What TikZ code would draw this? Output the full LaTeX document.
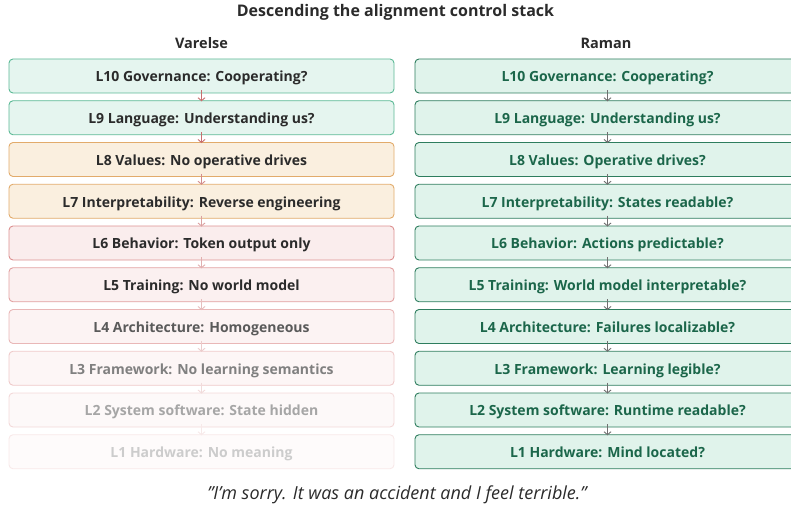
\documentclass[tikz,border=0pt]{standalone}
\usepackage{fontspec}
\setmainfont{Open Sans}
\usetikzlibrary{arrows.meta}

% stroke / fill / text colours of the layers
\definecolor{grnfill}{HTML}{E5F5EF}
\definecolor{grndraw}{HTML}{5BB995}
\definecolor{rgrnfill}{HTML}{E0F3EB}
\definecolor{rgrndraw}{HTML}{2E7D5E}
\definecolor{rgrntext}{HTML}{1B664A}
\definecolor{orgfill}{HTML}{FAEFDF}
\definecolor{orgdraw}{HTML}{E2AB6B}
\definecolor{redfill}{HTML}{FAEDED}
\definecolor{reddraw}{HTML}{DD9090}
\definecolor{dark}{HTML}{2B2B2B}
\definecolor{redarrow}{HTML}{C86E6E}
\definecolor{grayarrow}{HTML}{707070}

\tikzset{
  layer/.style={draw, line width=0.9pt, rounded corners=4pt, minimum width=385pt,
    minimum height=34pt, inner sep=0pt, text height=11.5pt, text depth=0pt, text=dark,
    font=\fontsize{14}{16}\selectfont\bfseries},
  rlayer/.style={layer, fill=rgrnfill, draw=rgrndraw, text=rgrntext},
  okbox/.style={fill=grnfill, draw=grndraw},
  warnbox/.style={fill=orgfill, draw=orgdraw},
  badbox/.style={fill=redfill, draw=reddraw},
  % box strength / text strength
  fade/.style 2 args={fill=redfill!#1!white, draw=reddraw!#1!white, text=dark!#2!white},
  down/.style={-{Straight Barb[length=3pt,width=7pt]}, line width=0.9pt, shorten <=-3pt, shorten >=-1pt},
}

\begin{document}
\begin{tikzpicture}[x=1pt,y=-1pt]
  \useasboundingbox (0,0) rectangle (791,513);

  \node[font=\fontsize{16}{19}\selectfont\bfseries, text=dark] (title) at (395.5,12) {Descending the alignment control stack};
  \node[font=\fontsize{14.5}{17}\selectfont\bfseries, text=dark] (hvar) at (201.5,43) {Varelse};
  \node[font=\fontsize{14.5}{17}\selectfont\bfseries, text=dark] (hram) at (606,43) {Raman};

  % Varelse column
  \node[layer,okbox]   (v10) at (201.5,76)     {L10 Governance: Cooperating?};
  \node[layer,okbox]   (v9)  at (201.5,117.75) {L9 Language: Understanding us?};
  \node[layer,warnbox] (v8)  at (201.5,159.5)  {L8 Values: No operative drives};
  \node[layer,warnbox] (v7)  at (201.5,201.25) {L7 Interpretability: Reverse engineering};
  \node[layer,badbox]  (v6)  at (201.5,243)    {L6 Behavior: Token output only};
  \node[layer,fade={85}{100}] (v5)  at (201.5,284.75) {L5 Training: No world model};
  \node[layer,fade={65}{78}]  (v4)  at (201.5,326.5)  {L4 Architecture: Homogeneous};
  \node[layer,fade={48}{60}]  (v3)  at (201.5,368.25) {L3 Framework: No learning semantics};
  \node[layer,fade={34}{42}]  (v2)  at (201.5,410)    {L2 System software: State hidden};
  \node[layer,fade={20}{24}]  (v1)  at (201.5,451.75) {L1 Hardware: No meaning};

  % Raman column (runs past the right edge)
  \node[rlayer] (r10) at (607.5,76)     {L10 Governance: Cooperating?};
  \node[rlayer] (r9)  at (607.5,117.75) {L9 Language: Understanding us?};
  \node[rlayer] (r8)  at (607.5,159.5)  {L8 Values: Operative drives?};
  \node[rlayer] (r7)  at (607.5,201.25) {L7 Interpretability: States readable?};
  \node[rlayer] (r6)  at (607.5,243)    {L6 Behavior: Actions predictable?};
  \node[rlayer] (r5)  at (607.5,284.75) {L5 Training: World model interpretable?};
  \node[rlayer] (r4)  at (607.5,326.5)  {L4 Architecture: Failures localizable?};
  \node[rlayer] (r3)  at (607.5,368.25) {L3 Framework: Learning legible?};
  \node[rlayer] (r2)  at (607.5,410)    {L2 System software: Runtime readable?};
  \node[rlayer] (r1)  at (607.5,451.75) {L1 Hardware: Mind located?};

  % arrows down the stacks
  \foreach \a/\b/\op in {10/9/100,9/8/100,8/7/80,7/6/65,6/5/55,5/4/45,4/3/35,3/2/25,2/1/15}{
    \draw[down, draw=redarrow!\op!white] (v\a.south) -- (v\b.north);
    \draw[down, draw=grayarrow] (r\a.south) -- (r\b.north);
  }

  \node[font=\fontsize{18}{21}\selectfont\itshape, text=dark] (quote) at (397,495) {\symbol{34}I\symbol{39}m sorry. It was an accident and I feel terrible.\symbol{34}};
\end{tikzpicture}
\end{document}
